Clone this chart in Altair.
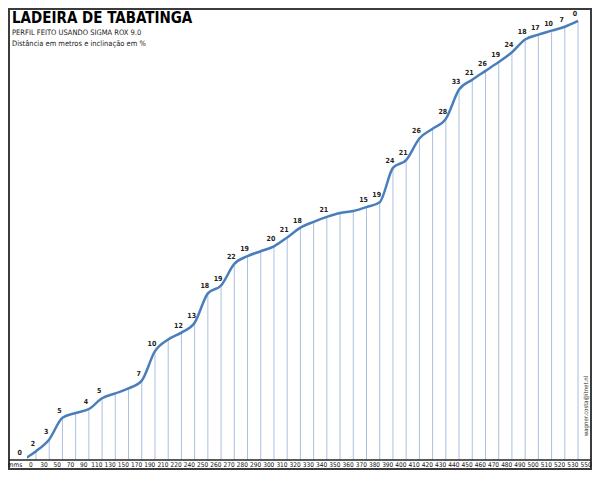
import altair as alt
import pandas as pd

# category labels (distance, m) shown in the bottom row
distancias = ["0", "30", "50", "70", "90", "110", "130", "150", "170", "190", "210",
              "220", "240", "250", "260", "270", "280", "290", "300", "310", "320",
              "330", "340", "350", "360", "370", "380", "390", "400", "410", "420",
              "430", "440", "450", "460", "470", "480", "490", "500", "510", "520",
              "530", "550"]

# relative elevation at each point
elevacao = [0, 9, 21, 43, 48, 52, 63, 68, 73, 81, 111,
            123, 130, 140, 170, 178, 200, 208, 213, 218, 227,
            237, 243, 248, 252, 254, 258, 263, 298, 306, 328,
            338, 348, 378, 388, 397, 406, 416, 429, 434, 438,
            442, 448]

# inclination labels (%) shown above the points ("" = no label)
inclinacao = ["0", "2", "3", "5", "", "4", "5", "", "", "7", "10",
              "", "12", "13", "18", "19", "22", "19", "", "20", "21",
              "18", "", "21", "", "", "15", "19", "24", "21", "26",
              "", "28", "33", "21", "26", "19", "24", "18", "17", "10",
              "7", "0"]

titulo = "LADEIRA DE TABATINGA"
subtitulo1 = "PERFIL FEITO USANDO SIGMA ROX 9.0"
subtitulo2 = "Distância em metros e inclinação em %"
rotulo_linha = "mms"
autor = "wagner.costa@itnet.nl"

df = pd.DataFrame({
    "idx": list(range(len(distancias))),
    "dist": distancias,
    "elev": elevacao,
    "incl": inclinacao,
})

COND = "'DejaVu Sans Condensed', 'Liberation Sans', sans-serif"

W, H = 562, 446
xs = alt.Scale(domain=[0.32, 42.83], nice=False, zero=False)
ys = alt.Scale(domain=[0, 455], nice=False)

base = alt.Chart(df)

rules = base.mark_rule(color="#a9c0e0", strokeWidth=1, clip=True).encode(
    x=alt.X("idx:Q", scale=xs, axis=None),
    y=alt.Y("elev:Q", scale=ys, axis=None),
    y2=alt.datum(0),
)

line = base.mark_line(interpolate="monotone", color="#4a7ebb", strokeWidth=2.5, clip=True).encode(
    x=alt.X("idx:Q", scale=xs, axis=None),
    y=alt.Y("elev:Q", scale=ys, axis=None),
)

labels = base.mark_text(font=COND, fontSize=7, fontWeight="bold", color="#222222",
                        dx=-3, dy=-7, baseline="middle").encode(
    x=alt.X("idx:Q", scale=xs, axis=None),
    y=alt.Y("elev:Q", scale=ys, axis=None),
    text="incl:N",
)

xlabels = base.mark_text(font=COND, fontSize=6.5, color="#111111", dx=8,
                         baseline="middle").encode(
    x=alt.X("idx:Q", scale=xs, axis=None),
    y=alt.value(H + 5),
    text="dist:N",
)

one = pd.DataFrame({"t": [rotulo_linha]})
mms = alt.Chart(one).mark_text(font=COND, fontSize=6.5, color="#111111",
                                baseline="middle").encode(
    x=alt.value(-12), y=alt.value(H + 5), text="t:N")

baseline_rule = alt.Chart(one).mark_rule(color="#222222", strokeWidth=1.5).encode(
    x=alt.value(-18), x2=alt.value(W + 2), y=alt.value(H))

frame = alt.Chart(one).mark_rect(fill=None, stroke="#3c3c3c", strokeWidth=2).encode(
    x=alt.value(-18), x2=alt.value(W + 2), y=alt.value(-5), y2=alt.value(H + 9))

tit = alt.Chart(pd.DataFrame({"t": [titulo]})).mark_text(
    font=COND, fontSize=15, fontWeight="bold", color="#000000",
    align="left", baseline="middle").encode(
    x=alt.value(-15), y=alt.value(4), text="t:N")

sub1 = alt.Chart(pd.DataFrame({"t": [subtitulo1]})).mark_text(
    font=COND, fontSize=7.5, color="#222222",
    align="left", baseline="middle").encode(
    x=alt.value(-15), y=alt.value(19), text="t:N")

sub2 = alt.Chart(pd.DataFrame({"t": [subtitulo2]})).mark_text(
    font=COND, fontSize=7.5, color="#222222",
    align="left", baseline="middle").encode(
    x=alt.value(-15), y=alt.value(30), text="t:N")

email = alt.Chart(pd.DataFrame({"t": [autor]})).mark_text(
    font=COND, fontSize=6, color="#333333", angle=270,
    align="center", baseline="middle").encode(
    x=alt.value(W - 3), y=alt.value(H - 54), text="t:N")

chart = alt.layer(
    frame, rules, line, labels, baseline_rule, xlabels, mms, tit, sub1, sub2, email
).properties(
    width=W, height=H,
    autosize=alt.AutoSizeParams(type="none"),
    padding={"left": 19, "top": 6, "right": 3, "bottom": 10},
    background="white",
).configure_view(stroke=None)

chart.save("out.html", embed_options={"renderer": "svg", "actions": False})
